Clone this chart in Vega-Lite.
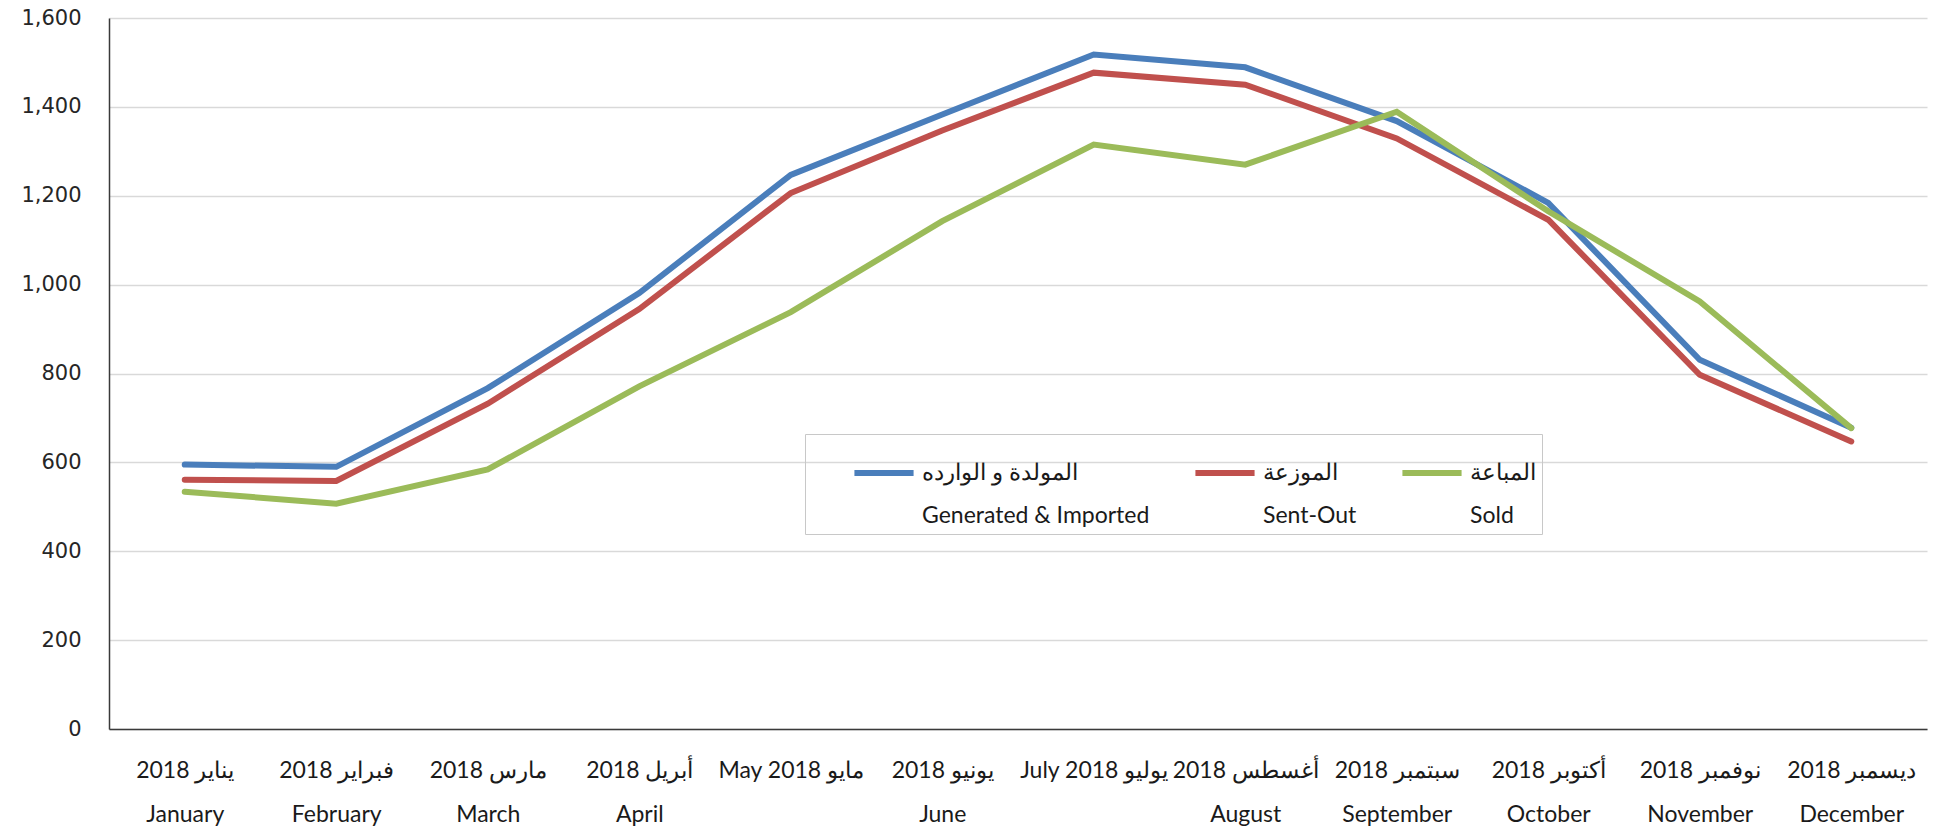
{
  "$schema": "https://vega.github.io/schema/vega-lite/v6.json",
  "autosize": {"type": "none"},
  "width": 1818,
  "height": 711,
  "padding": {"left": 109, "top": 18, "right": 8, "bottom": 103},
  "background": "white",
  "config": {
    "view": {"stroke": null},
    "axis": {"labelColor": "#262626", "domainColor": "#3a3a3a", "domainWidth": 1.5, "ticks": false, "gridColor": "#d9d9d9", "gridWidth": 1.5},
    "style": {"guide-label": {"lineHeight": 43}}
  },
  "data": {
    "values": [
      {"month": "يناير 2018|January", "series": "المولدة و الوارده|Generated & Imported", "value": 595},
      {"month": "فبراير 2018|February", "series": "المولدة و الوارده|Generated & Imported", "value": 590},
      {"month": "مارس 2018|March", "series": "المولدة و الوارده|Generated & Imported", "value": 767},
      {"month": "أبريل 2018|April", "series": "المولدة و الوارده|Generated & Imported", "value": 981},
      {"month": "May 2018 مايو|", "series": "المولدة و الوارده|Generated & Imported", "value": 1247},
      {"month": "يونيو 2018|June", "series": "المولدة و الوارده|Generated & Imported", "value": 1383},
      {"month": "July 2018 يوليو|", "series": "المولدة و الوارده|Generated & Imported", "value": 1518},
      {"month": "أغسطس 2018|August", "series": "المولدة و الوارده|Generated & Imported", "value": 1489},
      {"month": "سبتمبر 2018|September", "series": "المولدة و الوارده|Generated & Imported", "value": 1368},
      {"month": "أكتوبر 2018|October", "series": "المولدة و الوارده|Generated & Imported", "value": 1184},
      {"month": "نوفمبر 2018|November", "series": "المولدة و الوارده|Generated & Imported", "value": 831},
      {"month": "ديسمبر 2018|December", "series": "المولدة و الوارده|Generated & Imported", "value": 678},
      {"month": "يناير 2018|January", "series": "الموزعة|Sent-Out", "value": 561},
      {"month": "فبراير 2018|February", "series": "الموزعة|Sent-Out", "value": 558},
      {"month": "مارس 2018|March", "series": "الموزعة|Sent-Out", "value": 732},
      {"month": "أبريل 2018|April", "series": "الموزعة|Sent-Out", "value": 945},
      {"month": "May 2018 مايو|", "series": "الموزعة|Sent-Out", "value": 1206},
      {"month": "يونيو 2018|June", "series": "الموزعة|Sent-Out", "value": 1347},
      {"month": "July 2018 يوليو|", "series": "الموزعة|Sent-Out", "value": 1477},
      {"month": "أغسطس 2018|August", "series": "الموزعة|Sent-Out", "value": 1450},
      {"month": "سبتمبر 2018|September", "series": "الموزعة|Sent-Out", "value": 1329},
      {"month": "أكتوبر 2018|October", "series": "الموزعة|Sent-Out", "value": 1146},
      {"month": "نوفمبر 2018|November", "series": "الموزعة|Sent-Out", "value": 797},
      {"month": "ديسمبر 2018|December", "series": "الموزعة|Sent-Out", "value": 647},
      {"month": "يناير 2018|January", "series": "المباعة|Sold", "value": 534},
      {"month": "فبراير 2018|February", "series": "المباعة|Sold", "value": 507},
      {"month": "مارس 2018|March", "series": "المباعة|Sold", "value": 584},
      {"month": "أبريل 2018|April", "series": "المباعة|Sold", "value": 771},
      {"month": "May 2018 مايو|", "series": "المباعة|Sold", "value": 938},
      {"month": "يونيو 2018|June", "series": "المباعة|Sold", "value": 1143},
      {"month": "July 2018 يوليو|", "series": "المباعة|Sold", "value": 1315},
      {"month": "أغسطس 2018|August", "series": "المباعة|Sold", "value": 1270},
      {"month": "سبتمبر 2018|September", "series": "المباعة|Sold", "value": 1389},
      {"month": "أكتوبر 2018|October", "series": "المباعة|Sold", "value": 1165},
      {"month": "نوفمبر 2018|November", "series": "المباعة|Sold", "value": 962},
      {"month": "ديسمبر 2018|December", "series": "المباعة|Sold", "value": 677}
    ]
  },
  "mark": {"type": "line", "strokeWidth": 6, "strokeCap": "round", "strokeJoin": "miter"},
  "encoding": {
    "x": {
      "field": "month",
      "type": "nominal",
      "sort": null,
      "scale": {"type": "point", "padding": 0.5},
      "axis": {
        "title": null,
        "labelAngle": 0,
        "labelExpr": "split(datum.value, '|')",
        "labelFont": "Lato",
        "labelFontSize": 23,
        "labelLineHeight": 44,
        "labelBaseline": "top",
        "labelPadding": 30,
        "labelColor": "#1a1a1a",
        "labelLimit": 300,
        "grid": false
      }
    },
    "y": {
      "field": "value",
      "type": "quantitative",
      "scale": {"domain": [0, 1600], "nice": false},
      "axis": {
        "title": null,
        "values": [0, 200, 400, 600, 800, 1000, 1200, 1400, 1600],
        "format": ",d",
        "labelFont": "DejaVu Sans",
        "labelFontSize": 21,
        "labelPadding": 28,
        "labelColor": "#262626",
        "grid": true
      }
    },
    "color": {
      "field": "series",
      "type": "nominal",
      "scale": {
        "domain": ["المولدة و الوارده|Generated & Imported", "الموزعة|Sent-Out", "المباعة|Sold"],
        "range": ["#4a7ebb", "#c0504d", "#9bbb59"]
      },
      "legend": {
        "title": null,
        "orient": "none",
        "legendX": 696,
        "legendY": 416,
        "padding": 6,
        "strokeColor": "#c8c8c8",
        "direction": "horizontal",
        "columns": 3,
        "symbolType": "stroke",
        "symbolSize": 3500,
        "symbolStrokeWidth": 6,
        "symbolOffset": 40,
        "labelExpr": "split(datum.label, '|')",
        "labelFont": "Lato",
        "labelFontSize": 23,
        "labelBaseline": "middle",
        "labelOffset": 5,
        "labelLimit": 400,
        "labelColor": "#1a1a1a",
        "columnPadding": 2
      }
    }
  }
}
